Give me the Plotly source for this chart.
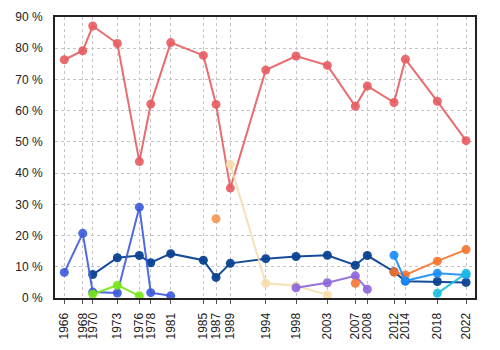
import plotly.graph_objects as go

years = ["1966", "1968", "1970", "1973", "1976", "1978", "1981", "1985", "1987", "1989",
         "1994", "1998", "2003", "2007", "2008", "2012", "2014", "2018", "2022"]
# election dates as decimal years (position on the time axis)
dates = [1966.0, 1968.57, 1969.96, 1973.39, 1976.46, 1978.05, 1980.83, 1985.38, 1987.15, 1989.14,
         1994.08, 1998.30, 2002.67, 2006.57, 2008.24, 2011.96, 2013.54, 2018.0, 2022.0]

N = None
red    = [76.3, 79.2, 87.1, 81.5, 43.7, 62.1, 81.8, 77.7, 62.0, 35.2, 73.0, 77.5, 74.5, 61.4, 67.9, 62.6, 76.5, 63.0, 50.4]
navy   = [N, N, 7.5, 12.9, 13.6, 11.3, 14.2, 12.1, 6.6, 11.1, 12.6, 13.3, 13.7, 10.5, 13.6, 8.4, 5.4, 5.3, 5.0]
blue   = [8.2, 20.7, 1.9, 1.6, 29.1, 1.7, 0.7, N, N, N, N, N, N, N, N, N, N, N, N]
green  = [N, N, 1.2, 4.1, 0.7, N, N, N, N, N, N, N, N, N, N, N, N, N, N]
sandy  = [N, N, N, N, N, N, N, N, 25.4, N, N, N, N, N, N, N, N, N, N]
wheat  = [N, N, N, N, N, N, N, N, N, 42.8, 4.7, 3.9, 1.0, N, N, N, N, N, N]
purple = [N, N, N, N, N, N, N, N, N, N, N, 3.3, 4.9, 7.1, 2.8, N, N, N, N]
orange = [N, N, N, N, N, N, N, N, N, N, N, N, N, 4.7, N, 8.3, 7.4, 11.8, 15.5]
dodger = [N, N, N, N, N, N, N, N, N, N, N, N, N, N, N, 13.7, 5.5, 7.9, 7.4]
cyan   = [N, N, N, N, N, N, N, N, N, N, N, N, N, N, N, N, N, 1.5, 7.9]

series = [
    (red, "rgba(229,92,96,0.9)"),
    (navy, "rgba(10,65,145,0.95)"),
    (blue, "rgba(60,90,220,0.9)"),
    (green, "rgba(120,230,20,0.9)"),
    (sandy, "rgba(242,150,80,0.9)"),
    (wheat, "rgba(245,220,170,0.85)"),
    (purple, "rgba(140,100,220,0.9)"),
    (orange, "rgba(245,115,45,0.9)"),
    (dodger, "rgba(25,140,250,0.9)"),
    (cyan, "rgba(25,190,225,0.9)"),
]

fig = go.Figure()
for vals, col in series:
    fig.add_trace(go.Scatter(
        x=dates, y=vals, mode="lines+markers",
        line=dict(color=col, width=2),
        marker=dict(color=col, size=9),
        connectgaps=False, showlegend=False,
    ))

fig.update_layout(
    width=500, height=350,
    margin=dict(l=55, r=25, t=17, b=52),
    paper_bgcolor="white", plot_bgcolor="white",
    font=dict(family="Liberation Sans, Arial, sans-serif", size=12, color="#222"),
    showlegend=False,
)
fig.update_xaxes(
    range=[1964.7, 2023.25], tickvals=dates, ticktext=years, tickangle=-90,
    showgrid=True, gridcolor="#c4c4c4", griddash="dot", gridwidth=1,
    showline=True, linecolor="#222", linewidth=2, mirror=True,
    ticks="outside", ticklen=4, tickcolor="#555", zeroline=False,
    ticklabelstandoff=4, automargin=False,
)
fig.update_yaxes(
    range=[0, 90], dtick=10, ticksuffix=" %",
    showgrid=True, gridcolor="#c4c4c4", griddash="dot", gridwidth=1,
    showline=True, linecolor="#222", linewidth=2, mirror=True,
    ticks="", zeroline=False, ticklabelstandoff=8, automargin=False,
)

fig.write_html("out.html")
